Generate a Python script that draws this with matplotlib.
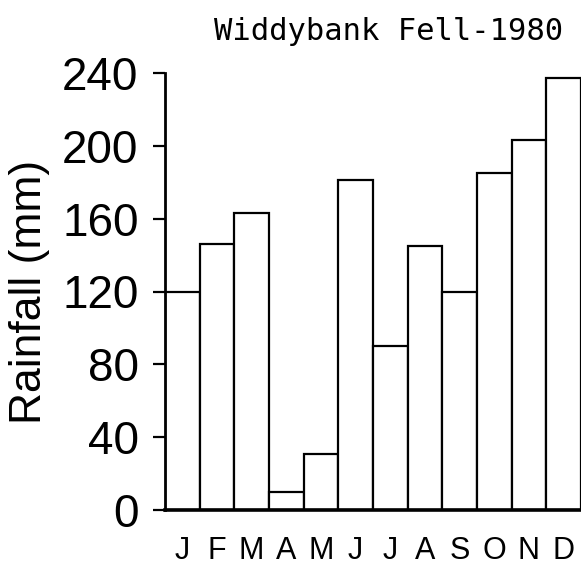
import matplotlib
matplotlib.use("Agg")
import matplotlib.pyplot as plt

# dados
months = ["J", "F", "M", "A", "M", "J", "J", "A", "S", "O", "N", "D"]
rainfall = [120, 146, 163, 10, 31, 181, 90, 145, 120, 185, 203, 237]
yticks = [0, 40, 80, 120, 160, 200, 240]
title = "Widdybank Fell-1980"

plt.rcParams["font.family"] = ["Liberation Sans", "DejaVu Sans"]

fig = plt.figure(figsize=(5.81, 5.66), dpi=100)
ax = fig.add_axes([165 / 581, 1 - 510 / 566, 416 / 581, (510 - 73) / 566])

x = list(range(len(months)))
ax.bar(x, rainfall, width=1.0, color="white", edgecolor="black", linewidth=1.6)

ax.set_xlim(-0.5, 11.5)
ax.set_ylim(0, 240)
ax.set_yticks(yticks)
ax.set_yticklabels([str(v) for v in yticks], fontsize=33)
ax.set_xticks(x)
ax.set_xticklabels(months, fontsize=22)

ax.tick_params(axis="y", direction="out", length=9, width=1.6, pad=10)
ax.tick_params(axis="x", length=0, pad=19)

ax.spines["top"].set_visible(False)
ax.spines["right"].set_visible(False)
ax.spines["left"].set_linewidth(2)
ax.spines["bottom"].set_linewidth(2.6)

ax.set_ylabel("Rainfall (mm)", fontsize=32, labelpad=9)

# título em fonte monoespaçada (parecida com a do original)
fig.text(389 / 581, 1 - 31 / 566, title, fontsize=22, ha="center", va="center",
         family="DejaVu Sans Mono")

fig.savefig("out.png", dpi=100)
